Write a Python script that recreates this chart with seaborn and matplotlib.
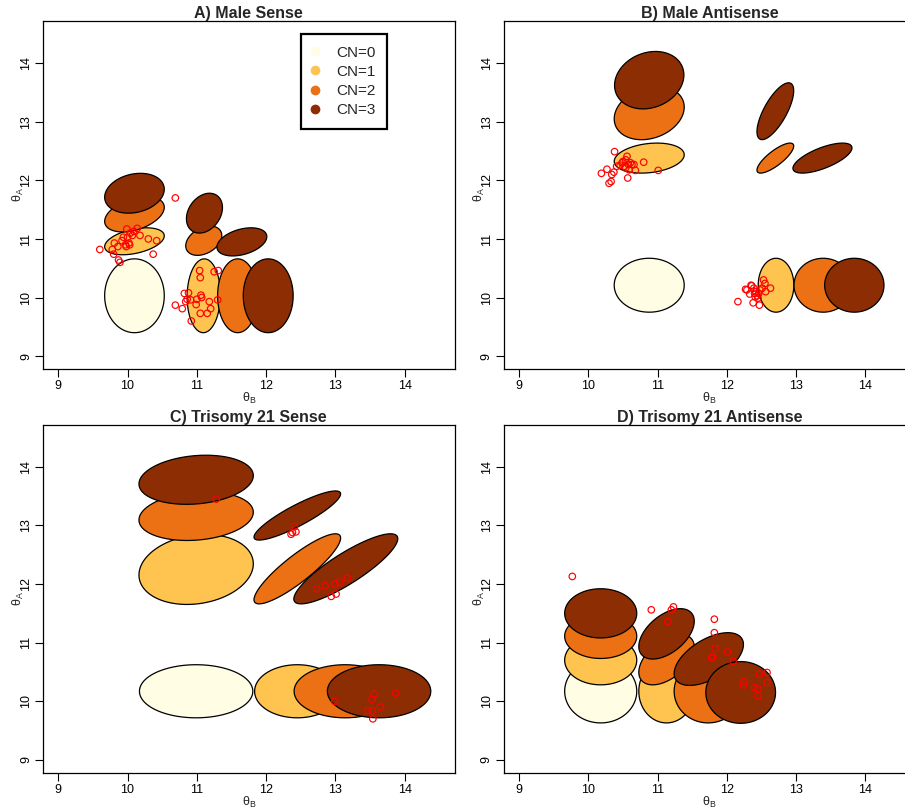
import numpy as np
import pandas as pd
import matplotlib
matplotlib.use("Agg")
import matplotlib.pyplot as plt
import seaborn as sns
from matplotlib.lines import Line2D

sns.set_style("ticks")
plt.rcParams['font.family'] = ['Liberation Sans', 'DejaVu Sans']
plt.rcParams['mathtext.fontset'] = 'custom'
plt.rcParams['mathtext.rm'] = 'Liberation Sans'
plt.rcParams['mathtext.it'] = 'Liberation Sans:italic'
plt.rcParams['mathtext.bf'] = 'Liberation Sans:bold'

cn_labels = ["CN=0", "CN=1", "CN=2", "CN=3"]
cn_colors = ["#FFFDE3", "#FEC44F", "#EC7014", "#8C2D04"]
titles = ["A) Male Sense", "B) Male Antisense", "C) Trisomy 21 Sense", "D) Trisomy 21 Antisense"]
ticks = [9, 10, 11, 12, 13, 14]

# ---- Panel A: ellipses (copy number, centre, half-extent, correlation) ----
a_cn = [0, 1, 1, 2, 2, 2, 3, 3, 3, 3]
a_cx = [10.10, 10.10, 11.10, 10.10, 11.10, 11.59, 10.10, 11.11, 11.65, 12.03]
a_cy = [10.03, 10.96, 10.03, 11.42, 10.97, 10.03, 11.78, 11.44, 10.95, 10.03]
a_hw = [0.43, 0.43, 0.24, 0.43, 0.26, 0.29, 0.43, 0.26, 0.36, 0.36]
a_hh = [0.63, 0.23, 0.63, 0.30, 0.25, 0.63, 0.34, 0.34, 0.24, 0.63]
a_rho = [0.0, 0.40, 0.03, 0.40, 0.35, 0.0, 0.20, 0.28, 0.37, 0.0]
a_px = [9.60, 9.78, 9.81, 9.80, 9.86, 9.87, 9.89, 9.92, 9.94, 9.97, 9.98, 9.99, 10.00,
        10.02, 10.03, 10.04, 10.07, 10.09, 10.14, 10.18, 10.30, 10.42, 10.37, 10.69,
        10.69, 10.79, 10.82, 10.84, 10.86, 10.88, 10.91, 10.92, 10.99, 11.00, 11.04,
        11.05, 11.05, 11.06, 11.07, 11.15, 11.18, 11.20, 11.25, 11.31, 11.30]
a_py = [10.82, 10.82, 10.93, 10.74, 10.87, 10.64, 10.60, 10.97, 11.03, 10.90, 10.87, 11.17, 11.03,
        10.93, 10.90, 11.10, 11.06, 11.13, 11.18, 11.06, 11.00, 10.97, 10.74, 11.70,
        9.87, 9.81, 10.07, 9.93, 9.97, 10.08, 9.96, 9.60, 9.88, 9.97, 10.46,
        10.34, 9.73, 10.04, 10.00, 9.73, 9.93, 9.81, 10.44, 10.46, 9.96]

# ---- Panel B ----
b_cn = [0, 1, 1, 2, 2, 2, 3, 3, 3, 3]
b_cx = [10.88, 10.88, 12.71, 10.88, 12.70, 13.39, 10.88, 12.70, 13.38, 13.84]
b_cy = [10.21, 12.38, 10.21, 13.15, 12.38, 10.21, 13.71, 13.18, 12.38, 10.21]
b_hw = [0.505, 0.505, 0.257, 0.505, 0.265, 0.42, 0.50, 0.265, 0.426, 0.428]
b_hh = [0.46, 0.256, 0.46, 0.456, 0.256, 0.46, 0.49, 0.485, 0.256, 0.46]
b_rho = [0.0, 0.22, 0.0, 0.22, 0.80, 0.0, 0.18, 0.72, 0.68, 0.0]
b_px = [10.19, 10.27, 10.30, 10.33, 10.34, 10.37, 10.38, 10.41, 10.46, 10.49, 10.50, 10.52,
        10.54, 10.54, 10.56, 10.57, 10.58, 10.59, 10.61, 10.63, 10.66, 10.68, 10.80, 11.01,
        12.16, 12.27, 12.29, 12.33, 12.35, 12.36, 12.38, 12.39, 12.40, 12.41, 12.42,
        12.44, 12.45, 12.46, 12.47, 12.48, 12.51, 12.53, 12.55, 12.56, 12.63]
b_py = [12.12, 12.19, 11.95, 11.98, 12.10, 12.14, 12.49, 12.24, 12.26, 12.30, 12.32, 12.24,
        12.35, 12.21, 12.41, 12.04, 12.27, 12.18, 12.30, 12.27, 12.27, 12.17, 12.31, 12.17,
        9.93, 10.14, 10.13, 10.06, 10.21, 10.20, 9.91, 10.16, 10.07, 10.01, 10.10,
        10.03, 9.99, 10.07, 9.87, 10.13, 10.16, 10.30, 10.24, 10.10, 10.16]

# ---- Panel C ----
c_cn = [0, 1, 1, 2, 2, 2, 3, 3, 3, 3]
c_cx = [10.99, 10.99, 12.45, 10.99, 12.45, 13.14, 10.99, 12.45, 13.15, 13.63]
c_cy = [10.17, 12.25, 10.17, 13.16, 12.26, 10.17, 13.78, 13.17, 12.26, 10.17]
c_hw = [0.818, 0.825, 0.616, 0.825, 0.625, 0.736, 0.825, 0.625, 0.75, 0.746]
c_hh = [0.453, 0.598, 0.453, 0.416, 0.598, 0.453, 0.419, 0.419, 0.598, 0.453]
c_rho = [0.0, 0.16, 0.0, 0.16, 0.88, 0.0, 0.17, 0.88, 0.86, 0.0]
c_px = [11.28, 12.36, 12.38, 12.41, 12.43, 12.73, 12.85, 12.99, 13.06, 13.17, 12.94, 13.01,
        12.99, 13.53, 13.56, 13.47, 13.53, 13.54, 13.65, 13.87]
c_py = [13.45, 12.85, 12.88, 12.98, 12.89, 11.92, 11.97, 12.00, 12.03, 12.10, 11.79, 11.83,
        10.00, 10.03, 10.12, 9.84, 9.84, 9.70, 9.90, 10.14]

# ---- Panel D ----
d_cn = [0, 1, 1, 2, 2, 2, 3, 3, 3, 3]
d_cx = [10.18, 10.18, 11.13, 10.18, 11.13, 11.73, 10.18, 11.13, 11.74, 12.20]
d_cy = [10.17, 10.70, 10.17, 11.11, 10.71, 10.17, 11.50, 11.15, 10.72, 10.15]
d_hw = [0.52, 0.52, 0.40, 0.52, 0.40, 0.49, 0.52, 0.40, 0.50, 0.503]
d_hh = [0.54, 0.42, 0.54, 0.38, 0.43, 0.54, 0.42, 0.43, 0.45, 0.527]
d_rho = [0.0, 0.0, 0.0, 0.0, 0.50, 0.0, 0.0, 0.50, 0.55, 0.0]
d_px = [9.77, 10.91, 11.15, 11.20, 11.23, 11.82, 11.82, 11.83, 11.78, 11.80, 12.01, 12.09,
        12.25, 12.24, 12.40, 12.45, 12.45, 12.47, 12.58, 12.58]
d_py = [12.13, 11.56, 11.36, 11.56, 11.61, 11.40, 11.17, 10.90, 10.74, 10.76, 10.84, 10.68,
        10.33, 10.28, 10.23, 10.21, 10.09, 10.46, 10.32, 10.49]

panels = [
    (a_cn, a_cx, a_cy, a_hw, a_hh, a_rho, a_px, a_py),
    (b_cn, b_cx, b_cy, b_hw, b_hh, b_rho, b_px, b_py),
    (c_cn, c_cx, c_cy, c_hw, c_hh, c_rho, c_px, c_py),
    (d_cn, d_cx, d_cy, d_hw, d_hh, d_rho, d_px, d_py),
]

W, H = 905, 811
fig = plt.figure(figsize=(W / 100, H / 100), dpi=100)
axw, axh = 411.6 / W, 348 / H
rects = [
    [43 / W, 1 - 369 / H, axw, axh],
    [503.7 / W, 1 - 369 / H, axw, axh],
    [43 / W, 1 - 772.7 / H, axw, axh],
    [503.7 / W, 1 - 772.7 / H, axw, axh],
]

t = np.linspace(0, 2 * np.pi, 361)

for i, (cn, cx, cy, hw, hh, rho, px, py) in enumerate(panels):
    ax = fig.add_axes(rects[i])
    ell = pd.DataFrame({"cn": cn, "cx": cx, "cy": cy, "hw": hw, "hh": hh, "rho": rho})
    for _, e in ell.sort_values("cn", kind="stable").iterrows():
        ex = e.cx + e.hw * np.cos(t)
        ey = e.cy + e.hh * (e.rho * np.cos(t) + np.sqrt(1 - e.rho ** 2) * np.sin(t))
        ax.fill(ex, ey, facecolor=cn_colors[int(e.cn)], edgecolor="black", linewidth=0.9)
    pts = pd.DataFrame({"theta_B": px, "theta_A": py})
    sns.scatterplot(data=pts, x="theta_B", y="theta_A", ax=ax, marker="o",
                    facecolors="none", edgecolor="red", s=22, linewidth=0.85, zorder=3)
    ax.set_xlim(8.78, 14.72)
    ax.set_ylim(8.78, 14.72)
    ax.set_xticks(ticks)
    ax.set_yticks(ticks)
    ax.set_xticklabels([str(v) for v in ticks])
    ax.set_yticklabels([str(v) for v in ticks], rotation=90, va="center")
    ax.tick_params(axis="both", direction="out", length=5.5, width=0.8, color="black",
                   labelsize=9, pad=2.5, labelcolor="black")
    for sp in ax.spines.values():
        sp.set_visible(True)
        sp.set_color("black")
        sp.set_linewidth(0.9)
    ax.set_xlabel("θ$_{\\mathrm{B}}$", fontsize=9)
    ax.set_ylabel("θ$_{\\mathrm{A}}$", fontsize=9)
    ax.xaxis.set_label_coords(0.5, -0.064)
    ax.yaxis.set_label_coords(-0.041, 0.5)
    ax.set_title(titles[i], fontsize=11.5, fontweight="bold", pad=2)
    if i == 0:
        handles = [Line2D([], [], marker="o", linestyle="none", markersize=6,
                          markerfacecolor=c, markeredgecolor=c) for c in cn_colors]
        leg = ax.legend(handles, cn_labels, loc="upper left", bbox_to_anchor=(0.626, 0.9635),
                        borderaxespad=0, frameon=True, fancybox=False, fontsize=11,
                        borderpad=0.78, handlelength=0.31, handletextpad=1.22,
                        labelspacing=0.34)
        fr = leg.get_frame()
        fr.set_edgecolor("black")
        fr.set_linewidth(1.6)
        fr.set_alpha(1)

fig.savefig("out.png", dpi=100)
